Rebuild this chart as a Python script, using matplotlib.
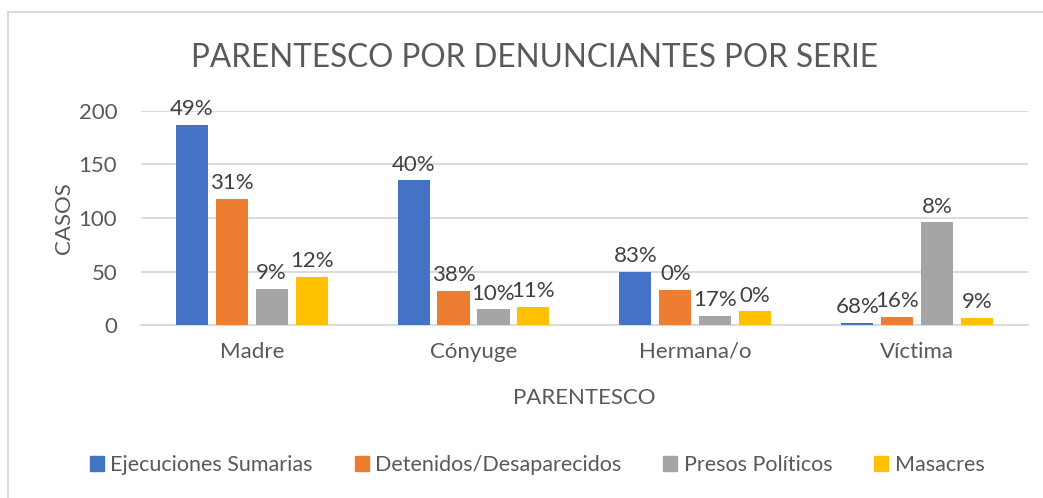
import matplotlib.pyplot as plt
import numpy as np
from matplotlib.lines import Line2D

plt.rcParams['font.family'] = ['Lato', 'DejaVu Sans']

categorias = ['Madre', 'Cónyuge', 'Hermana/o', 'Víctima']
series = ['Ejecuciones Sumarias', 'Detenidos/Desaparecidos', 'Presos Políticos', 'Masacres']
colores = ['#4472C4', '#ED7D31', '#A5A5A5', '#FFC000']

ejecuciones = [187, 135, 50, 2]
detenidos = [118, 32, 33, 8]
presos = [34, 15, 9, 96]
masacres = [45, 17, 13, 7]

pct_ejecuciones = ['49%', '40%', '83%', '68%']
pct_detenidos = ['31%', '38%', '0%', '16%']
pct_presos = ['9%', '10%', '17%', '8%']
pct_masacres = ['12%', '11%', '0%', '9%']

valores = [ejecuciones, detenidos, presos, masacres]
etiquetas = [pct_ejecuciones, pct_detenidos, pct_presos, pct_masacres]

gris = '#595959'

fig = plt.figure(figsize=(10.43, 4.98), dpi=100)
ax = fig.add_axes([0.135, 0.347, 0.8506, 0.4306])

x = np.arange(len(categorias))
paso = 0.18
ancho = 0.145
for i in range(4):
    pos = x + (i - 1.5) * paso
    barras = ax.bar(pos, valores[i], width=ancho, color=colores[i], label=series[i], zorder=3)
    for b, txt in zip(barras, etiquetas[i]):
        ax.annotate(txt, (b.get_x() + b.get_width() / 2, b.get_height()),
                    xytext=(0, 4), textcoords='offset points', ha='center', va='bottom',
                    fontsize=16, color='#404040', annotation_clip=False)

ax.set_xlim(-0.5, 3.5)
ax.set_ylim(0, 200)
ax.set_yticks([0, 50, 100, 150, 200])
ax.set_xticks(x)
ax.set_xticklabels(categorias)
ax.yaxis.grid(True, color='#D9D9D9', linewidth=1.3, zorder=0)
ax.set_axisbelow(True)
for s in ['top', 'right', 'left']:
    ax.spines[s].set_visible(False)
ax.spines['bottom'].set_color('#D9D9D9')
ax.spines['bottom'].set_linewidth(1.3)
ax.tick_params(axis='x', length=0, labelsize=16, labelcolor=gris, pad=12)
ax.tick_params(axis='y', length=0, labelsize=16, labelcolor=gris, pad=17)

ax.set_xlabel('PARENTESCO', fontsize=16, color=gris, labelpad=19)
ax.set_ylabel('CASOS', fontsize=16, color=gris, labelpad=3)
fig.text(0.512, 0.884, 'PARENTESCO POR DENUNCIANTES POR SERIE', ha='center', va='center',
         fontsize=22.7, color=gris)

handles = [plt.Rectangle((0, 0), 1, 1, color=c) for c in colores]
fig.legend(handles, series, loc='center', bbox_to_anchor=(0.515, 0.066), ncol=4,
           frameon=False, fontsize=15.5, labelcolor=gris, handlelength=0.65, handleheight=0.65,
           handletextpad=0.3, columnspacing=1.95)

# borde del grafico
fig.add_artist(Line2D([0.0077, 0.0077], [0, 0.976], color='#D9D9D9', linewidth=1.3))
fig.add_artist(Line2D([0.0077, 1], [0.976, 0.976], color='#D9D9D9', linewidth=1.3))

fig.savefig('out.png', dpi=100)
